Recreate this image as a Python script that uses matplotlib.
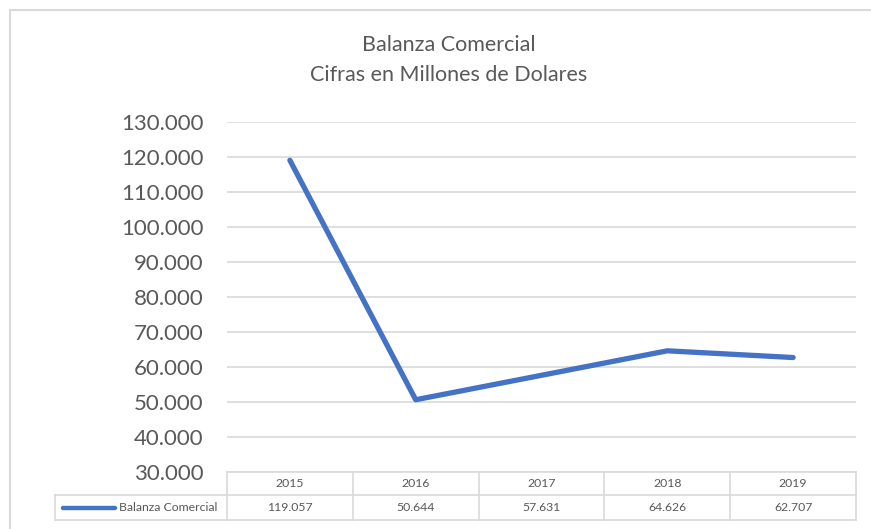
import matplotlib
matplotlib.use("Agg")
import matplotlib.pyplot as plt
from matplotlib.lines import Line2D

years = ["2015", "2016", "2017", "2018", "2019"]
values = [119.057, 50.644, 57.631, 64.626, 62.707]
series_name = "Balanza Comercial"
title_lines = ["Balanza Comercial", "Cifras en Millones de Dolares"]
yticks = [30, 40, 50, 60, 70, 80, 90, 100, 110, 120, 130]

W, H = 871, 529
fig = plt.figure(figsize=(W / 100, H / 100), dpi=100)
plt.rcParams['font.family'] = ['Lato', 'DejaVu Sans']

def fx(x):
    return x / W

def fy(y):
    return 1 - y / H

grid_c = "#d9d9d9"
text_c = "#595959"
line_c = "#4472c4"

# chart border
fig.add_artist(Line2D([fx(10), fx(10)], [fy(10), fy(529)], color=grid_c, lw=1.5))
fig.add_artist(Line2D([fx(10), fx(871)], [fy(10), fy(10)], color=grid_c, lw=1.5))

ax_l, ax_r, ax_t, ax_b = 227, 856, 122, 472
ax = fig.add_axes([fx(ax_l), fy(ax_b), (ax_r - ax_l) / W, (ax_b - ax_t) / H])
x = list(range(len(years)))
ax.plot(x, values, color=line_c, lw=3.8, solid_capstyle='round', solid_joinstyle='round', zorder=3)
ax.set_xlim(-0.5, len(years) - 0.5)
ax.set_ylim(30, 130)
ax.set_yticks(yticks)
ax.set_yticklabels([f"{v:.3f}" for v in yticks], fontsize=16, color=text_c)
ax.tick_params(axis='y', length=0, pad=17)
ax.set_xticks([])
ax.grid(axis='y', color=grid_c, lw=1.2)
ax.set_axisbelow(True)
for s in ax.spines.values():
    s.set_visible(False)

# title
fig.text(fx(449), fy(45), title_lines[0], ha='center', va='center', fontsize=15.5, color=text_c)
fig.text(fx(449), fy(75), title_lines[1], ha='center', va='center', fontsize=15.5, color=text_c)

# data table
t_top, t_mid, t_bot = 472, 495, 520
leg_l = 55
n = len(years)
colw = (ax_r - ax_l) / n
lw = 1.2
fig.add_artist(Line2D([fx(ax_l), fx(ax_r)], [fy(t_top), fy(t_top)], color=grid_c, lw=lw))
fig.add_artist(Line2D([fx(leg_l), fx(ax_r)], [fy(t_mid), fy(t_mid)], color=grid_c, lw=lw))
fig.add_artist(Line2D([fx(leg_l), fx(ax_r)], [fy(t_bot), fy(t_bot)], color=grid_c, lw=lw))
fig.add_artist(Line2D([fx(leg_l), fx(leg_l)], [fy(t_mid), fy(t_bot)], color=grid_c, lw=lw))
for i in range(n + 1):
    xx = ax_l + i * colw
    fig.add_artist(Line2D([fx(xx), fx(xx)], [fy(t_top), fy(t_bot)], color=grid_c, lw=lw))
for i, (yr, v) in enumerate(zip(years, values)):
    cx = ax_l + (i + 0.5) * colw
    fig.text(fx(cx), fy((t_top + t_mid) / 2), yr, ha='center', va='center', fontsize=8.8, color=text_c)
    fig.text(fx(cx), fy((t_mid + t_bot) / 2), f"{v:.3f}", ha='center', va='center', fontsize=8.8, color=text_c)
fig.add_artist(Line2D([fx(63), fx(115)], [fy(507.5), fy(507.5)], color=line_c, lw=3.2, solid_capstyle='round'))
fig.text(fx(119), fy(507.5), series_name, ha='left', va='center', fontsize=8.8, color=text_c)

fig.savefig("out.png", dpi=100)
